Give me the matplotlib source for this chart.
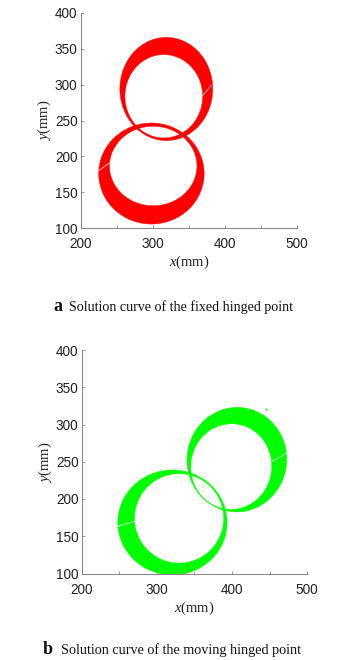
import matplotlib
matplotlib.use("Agg")
import matplotlib.pyplot as plt
import numpy as np
from matplotlib.path import Path
from matplotlib.patches import PathPatch, Ellipse

# ---------------- data (in mm) ----------------
# Each band (loop) is bounded by an outer and an inner ellipse:
# centre x, centre y, full width, full height, rotation (deg)
a_loops = ["upper", "lower"]
a_outer_cx = [318.5, 297.8]
a_outer_cy = [294.0, 176.0]
a_outer_w = [129.0, 146.5]
a_outer_h = [144.0, 141.0]
a_outer_ang = [0.0, 0.0]
a_inner_cx = [315.0, 300.3]
a_inner_cy = [283.8, 186.5]
a_inner_w = [108.0, 121.5]
a_inner_h = [116.4, 111.0]
a_inner_ang = [0.0, 0.0]

b_loops = ["upper", "lower"]
b_outer_cx = [406.5, 320.6]
b_outer_cy = [252.8, 168.5]
b_outer_w = [133.0, 145.8]
b_outer_h = [140.4, 141.0]
b_outer_ang = [-4.0, 0.0]
b_inner_cx = [399.0, 329.5]
b_inner_cy = [243.5, 174.0]
b_inner_w = [108.0, 119.0]
b_inner_h = [115.0, 120.0]
b_inner_ang = [-4.0, 0.0]

# small white streaks crossing the bands
a_streaks_x = [[369, 381], [224.5, 239.5]]
a_streaks_y = [[285, 299], [180, 190.7]]
b_streaks_x = [[454, 473], [247.7, 272]]
b_streaks_y = [[251, 261.6], [163.4, 170.5]]
b_dot_x = [445.5]
b_dot_y = [321]

x_ticks = [200, 300, 400, 500]
x_minor = [250, 350, 450]
y_ticks = [100, 150, 200, 250, 300, 350, 400]

RED = "#ff0000"
GREEN = "#00ff00"
GRAY = "#8a8a8a"


def ellipse_path(cx, cy, w, h, ang, reverse=False):
    e = Ellipse((cx, cy), w, h, angle=ang)
    p = e.get_patch_transform().transform_path(e.get_path())
    v = p.vertices
    c = p.codes
    if reverse:
        body = v[:-1][::-1]
        v = np.vstack([body, body[:1]])
        c = c.copy()
    return Path(v, c)


def ring_patch(ax, i, oc, ic, color):
    outer = ellipse_path(oc[0][i], oc[1][i], oc[2][i], oc[3][i], oc[4][i])
    inner = ellipse_path(ic[0][i], ic[1][i], ic[2][i], ic[3][i], ic[4][i], reverse=True)
    path = Path.make_compound_path(outer, inner)
    patch = PathPatch(path, facecolor=color, edgecolor=color, linewidth=0.3)
    ax.add_patch(patch)


def style_axes(ax):
    ax.set_xlim(200, 500)
    ax.set_ylim(100, 400)
    ax.set_xticks(x_ticks)
    ax.set_xticks(x_minor, minor=True)
    ax.set_yticks(y_ticks)
    for s in ["top", "right"]:
        ax.spines[s].set_visible(False)
    for s in ["left", "bottom"]:
        ax.spines[s].set_color(GRAY)
        ax.spines[s].set_linewidth(0.8)
    ax.tick_params(which="both", direction="in", length=2.5, width=0.6, color=GRAY,
                   labelsize=9.8, labelcolor="#222222")
    ax.tick_params(axis="y", pad=2.5)
    ax.tick_params(axis="x", pad=6.5)
    for lab in ax.get_xticklabels() + ax.get_yticklabels():
        lab.set_family("Liberation Sans")
    ax.set_xlabel(r"$\mathit{x}$(mm)", fontsize=10.5, family="Liberation Serif", color="#222222", labelpad=2)
    ax.set_ylabel(r"$\mathit{y}$(mm)", fontsize=10.5, family="Liberation Serif", color="#222222", labelpad=1.5)


plt.rcParams["mathtext.fontset"] = "custom"
plt.rcParams["mathtext.it"] = "Liberation Serif:italic"
plt.rcParams["mathtext.rm"] = "Liberation Serif"

W, H = 349, 660
fig = plt.figure(figsize=(W / 100, H / 100), dpi=100)

ax1 = fig.add_axes([81 / W, 1 - 228 / H, 216 / W, 215 / H])
a_oc = (a_outer_cx, a_outer_cy, a_outer_w, a_outer_h, a_outer_ang)
a_ic = (a_inner_cx, a_inner_cy, a_inner_w, a_inner_h, a_inner_ang)
for i in range(len(a_loops)):
    ring_patch(ax1, i, a_oc, a_ic, RED)
for sx, sy in zip(a_streaks_x, a_streaks_y):
    ax1.plot(sx, sy, color="white", lw=0.7, alpha=0.7)
style_axes(ax1)

ax2 = fig.add_axes([82 / W, 1 - 573.5 / H, 225 / W, 223.5 / H])
b_oc = (b_outer_cx, b_outer_cy, b_outer_w, b_outer_h, b_outer_ang)
b_ic = (b_inner_cx, b_inner_cy, b_inner_w, b_inner_h, b_inner_ang)
for i in range(len(b_loops)):
    ring_patch(ax2, i, b_oc, b_ic, GREEN)
for sx, sy in zip(b_streaks_x, b_streaks_y):
    ax2.plot(sx, sy, color="white", lw=0.7, alpha=0.7)
ax2.plot(b_dot_x, b_dot_y, "o", color=GREEN, ms=1.5, mew=0)
style_axes(ax2)

# captions
fig.text(53 / W, 1 - 307 / H, "a", fontsize=13, fontweight="bold", family="Liberation Serif",
         va="center", ha="left", color="#111111")
fig.text(69 / W, 1 - 307 / H, "Solution curve of the fixed hinged point", fontsize=10.1,
         family="Liberation Serif", va="center", ha="left", color="#111111")
fig.text(43 / W, 1 - 650 / H, "b", fontsize=13, fontweight="bold", family="Liberation Serif",
         va="center", ha="left", color="#111111")
fig.text(61 / W, 1 - 650 / H, "Solution curve of the moving hinged point", fontsize=10.2,
         family="Liberation Serif", va="center", ha="left", color="#111111")

fig.savefig("out.png", dpi=100)
